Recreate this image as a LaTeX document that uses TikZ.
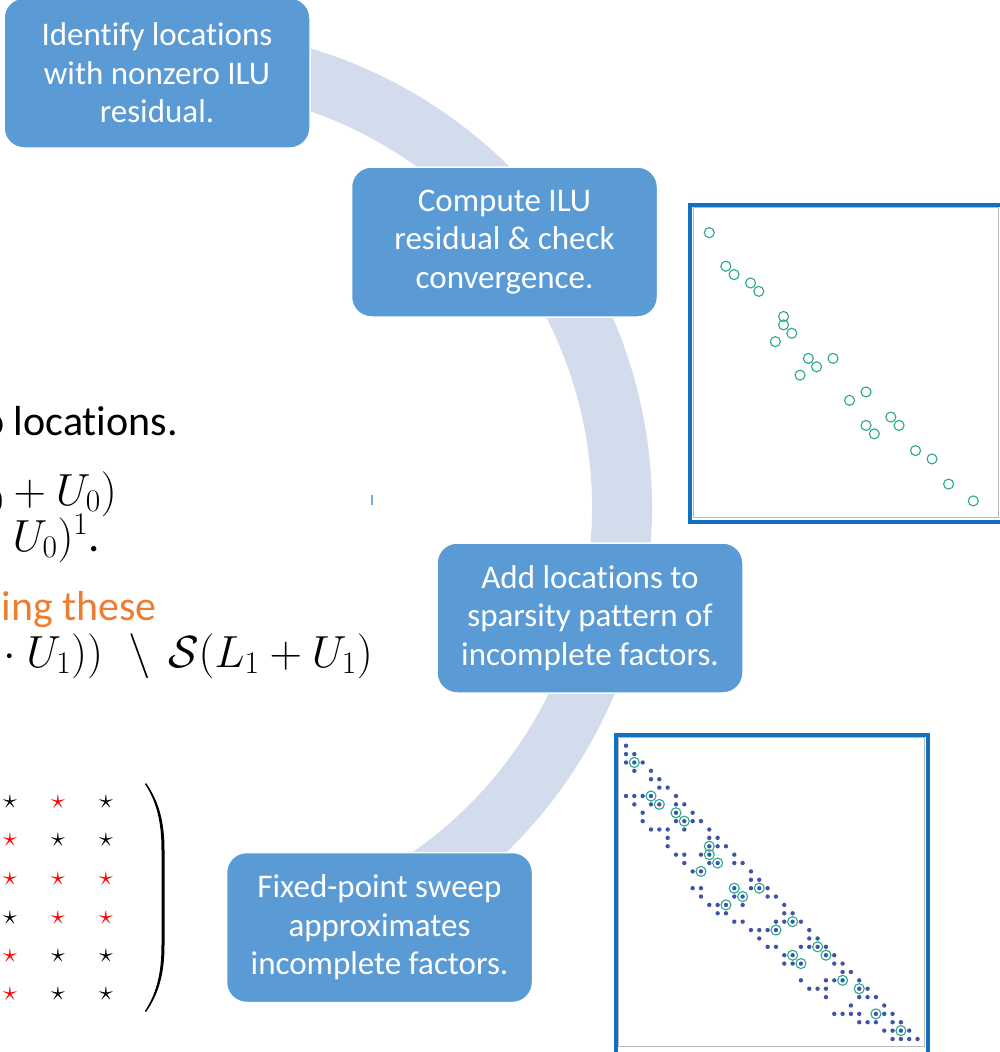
\RequirePackage{fix-cm}
\documentclass[tikz,border=0pt]{standalone}
\usepackage[no-math]{fontspec}
\setmainfont{Carlito}[Ligatures=NoCommon]
\definecolor{boxblue}{RGB}{91,155,213}
\definecolor{ringgray}{RGB}{211,220,236}
\definecolor{frameblue}{RGB}{18,112,192}
\definecolor{dotblue}{RGB}{62,84,168}
\definecolor{ringteal}{RGB}{40,168,140}
\definecolor{accorange}{RGB}{237,125,49}
\begin{document}
\begin{tikzpicture}[x=1pt, y=-1pt,
    stepbox/.style={draw=white, line width=1.5pt, fill=boxblue, rounded corners=20pt, minimum width=306pt, minimum height=150pt, inner sep=0pt, text=white, align=center, font=\fontsize{33}{38.5}\selectfont},
    slidetxt/.style={anchor=base east, inner sep=0pt, font=\fontsize{42}{50}\selectfont},
    mathtxt/.style={anchor=base east, inner sep=0pt, font=\fontsize{45}{52}\selectfont},
    startxt/.style={inner sep=0pt, font=\fontsize{28}{30}\selectfont}]
    \useasboundingbox (0,0) rectangle (1000,1052);
    \clip (0,0) rectangle (1000,1052);
    % text of the slide, cut at the left edge
    \node (loctxt) [slidetxt] at (178,435) {o locations.};
    \node (patA)   [mathtxt] at (117,505) {$L_0 + U_0)$};
    \node (patB)   [mathtxt] at (100,551) {$U_0)^1$.};
    \node (usetxt) [slidetxt, text=accorange] at (157,620) {ing these};
    \node (patC)   [mathtxt] at (373,667) {${}\cdot U_1))\mkern10mu\backslash\mkern7mu\mathcal{S}(L_1 + U_1)$};
    % star matrix and its closing parenthesis
    \foreach \x/\y/\c [count=\k] in {10/802/black, 58/802/red, 106/802/black,
        10/840/red, 58/840/black, 106/840/black,
        10/879/red, 58/879/red, 106/879/red,
        10/918/black, 58/918/red, 106/918/red,
        10/956/red, 58/956/black, 106/956/black,
        10/994/red, 58/994/black, 106/994/black}
        \node (star\k) [startxt, text=\c] at (\x,\y) {$\star$};
    \fill (146,783) .. controls (158,800) and (164.5,820) .. (164.5,850) -- (164.5,945)
        .. controls (164.5,975) and (158,995) .. (146,1012) -- (145,1011)
        .. controls (156,994) and (161.5,975) .. (161.5,945) -- (161.5,850)
        .. controls (161.5,820) and (156,801) .. (145,784) -- cycle;
    \draw [boxblue!80, line width=1.5pt] (372,495) -- (372,505);
    % cycle ring behind the steps
    \draw [ringgray, line width=60pt] (172,508) ++(-85:450) arc[start angle=-85, end angle=80, radius=450];
    \node (identify) [stepbox] at (157,73)  {Identify locations\\with nonzero ILU\\residual.};
    \node (residual) [stepbox] at (504.5,242) {Compute ILU\\residual \& check\\convergence.};
    \node (addloc)   [stepbox] at (590,618) {Add locations to\\sparsity pattern of\\incomplete factors.};
    \node (sweep)    [stepbox] at (379.5,927.5) {Fixed-point sweep\\approximates\\incomplete factors.};
    % residual plot
    \def\fixlocs{1/2,3/6,4/7,6/8,7/9,10/12,10/13,11/14,9/15,13/17,16/17,14/18,12/19,20/21,18/22,23/24,20/25,24/25,21/26,26/28,28/29,30/32,33/34}
    \draw [frameblue, line width=4pt] (690,204.7) rectangle (1003,522);
    \draw [gray!55, line width=1pt] (693.3,207.3) rectangle (998.3,517.7);
    \foreach \i/\j in \fixlocs
        \draw [ringteal, line width=1.1pt] ({709.3+8.25*(\i-1)},{232.7+8.38*(\j-2)}) circle (5pt);
    % sparsity pattern plot
    \draw [frameblue, line width=4pt] (615.7,734.7) rectangle (928,1060);
    \draw [gray!55, line width=1pt] (618.3,737.7) rectangle (924.3,1046);
    \foreach \j/\row in {0/{0}, 1/{0,1}, 2/{0,1,2}, 3/{1,3}, 4/{3,4}, 5/{4,5},
        6/{0,1,2,3,6}, 7/{1,3,4,6,7}, 8/{2,6,8}, 9/{2,6,7,8,9}, 10/{3,4,5,7,10},
        11/{5,10,11}, 12/{5,10,11,12}, 13/{6,7,9,10,13}, 14/{7,10,11,13,14},
        15/{8,9,15}, 16/{15,16}, 17/{8,9,13,15,16,17}, 18/{9,13,14,17,18},
        19/{10,11,12,14,19}, 20/{11,12,19,20}, 21/{13,14,18,19,20,21},
        22/{15,16,17,18,22}, 23/{16,22,23}, 24/{17,18,21,22,23,24},
        25/{19,20,24,25}, 26/{19,20,21,25,26}, 27/{26,27}, 28/{21,24,25,26,28},
        29/{22,23,24,28,29}, 30/{24,28,29,30}, 31/{27,31},
        32/{25,26,27,28,30,31,32}, 33/{28,29,30,32,33}, 34/{31,32,33,34},
        35/{32,33,34,35}}
        \foreach \i in \row
            \fill [dotblue] ({626+8.33*\i},{745.7+8.38*\j}) circle (2.2pt);
    \foreach \i/\j in \fixlocs
        \draw [ringteal, line width=1.1pt] ({626+8.33*\i},{745.7+8.38*\j}) circle (5pt);
\end{tikzpicture}
\end{document}
